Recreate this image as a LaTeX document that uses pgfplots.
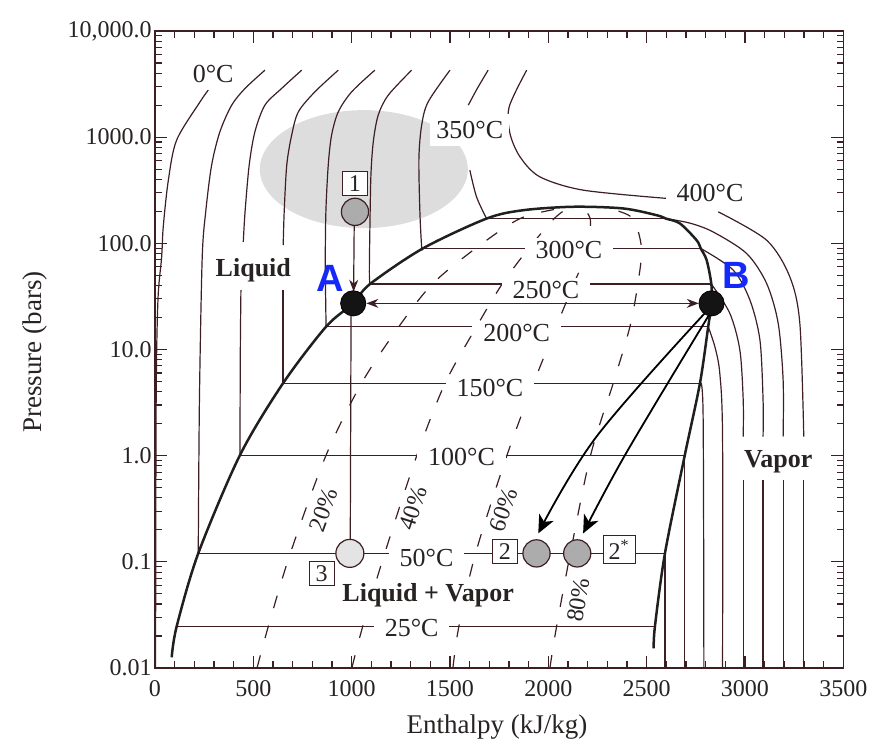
\documentclass[border=0pt]{standalone}
\usepackage{fontspec}
\setmainfont{Liberation Serif}
\newfontfamily\absans{Liberation Sans}
\usepackage{pgfplots}
\pgfplotsset{compat=1.18}
\usetikzlibrary{arrows.meta}
\definecolor{ink}{RGB}{60,30,35}
\definecolor{txt}{RGB}{40,35,35}
\definecolor{ellgray}{RGB}{221,221,221}
\definecolor{pgray}{RGB}{172,172,172}
\definecolor{lgray}{RGB}{228,228,228}
\definecolor{ABblue}{RGB}{20,40,250}
\newcommand{\isofont}{\fontsize{13}{15}\selectfont}
\newcommand{\axfont}{\fontsize{13.5}{16}\selectfont}
\pgfplotsset{
  iso/.style={ink, line width=0.6pt},
  isoS/.style={ink, line width=0.6pt, smooth, tension=0.5},
  qual/.style={ink, line width=0.6pt, smooth, tension=0.5, dash pattern=on 6.5pt off 9pt},
}
\tikzset{
  lab/.style={font=\isofont, text=txt, fill=white, inner xsep=5.5pt, inner ysep=1.5pt},
  qlab/.style={font=\fontsize{12}{14}\selectfont, text=txt},
  bx/.style={draw=ink, fill=white, line width=0.5pt, inner sep=1pt, minimum width=12.5pt, minimum height=12pt, font=\fontsize{12}{14}\selectfont, text=txt},
}
\begin{document}
\begin{tikzpicture}
\begin{axis}[
  scale only axis, width=344.2pt, height=318.5pt,
  xmin=0, xmax=3500, ymode=log, ymin=0.01, ymax=10000,
  xtick={0,500,1000,1500,2000,2500,3000,3500},
  xticklabels={0,500,1000,1500,2000,2500,3000,3500},
  minor x tick num=4,
  ytick={0.01,0.1,1,10,100,1000,10000},
  yticklabels={0.01,0.1,1.0,10.0,100.0,1000.0,{10,000.0}},
  minor ytick={0.02,0.03,0.04,0.05,0.06,0.07,0.08,0.09,0.2,0.3,0.4,0.5,0.6,0.7,0.8,0.9,2,3,4,5,6,7,8,9,20,30,40,50,60,70,80,90,200,300,400,500,600,700,800,900,2000,3000,4000,5000,6000,7000,8000,9000},
  tick align=inside, major tick length=6pt, minor tick length=3.3pt,
  axis line style={ink, line width=0.7pt},
  tick style={ink, line width=0.55pt},
  ticklabel style={font=\fontsize{12}{14}\selectfont, text=txt},
  xticklabel style={yshift=-3pt},
  yticklabel style={inner xsep=1.5pt},
  clip=false, no markers,
]
\coordinate (SW) at (rel axis cs:0,0);
\coordinate (NE) at (rel axis cs:1,1);
% highlight ellipse
\fill[ellgray] (axis cs:1062,500) ellipse [x radius=52pt, y radius=29.5pt];

% ---- isotherms, compressed-liquid part
\addplot[isoS] coordinates {(271,2773) (229,2150) (110,937) (68,394) (42,143) (34,74.6) (15,29) (6,3.3) (3,0.01)};
\addplot[isoS] coordinates {(559,4276) (458,2877) (390,2001) (330,1122) (288,545) (258,198) (240,72.1) (226,3.34) (220,0.120)};
\addplot[isoS] coordinates {(746,4276) (644,2877) (559,2001) (508,1122) (479,545) (458,198) (449,103)};
\addplot[isoS] coordinates {(437,36.3) (434,10) (432,1.01)};
\addplot[isoS] coordinates {(932,4276) (813,2672) (729,1731) (695,1044) (670,545) (657,198) (652,96)};
\addplot[isoS] coordinates {(651,36.3) (651,4.80)};
\addplot[isoS] coordinates {(1118,4276) (1000,2672) (932,1731) (898,1044) (881,545) (869,198) (866,62.3) (870,16.4)};
\addplot[isoS] coordinates {(1305,4276) (1186,2485) (1135,1611) (1110,903) (1098,439) (1093,148) (1090,53.9) (1093,41.3)};
\addplot[isoS] coordinates {(1500,4276) (1389,2150) (1356,1298) (1342,630) (1347,198) (1356,92.7) (1362,89.5)};
\addplot[isoS] coordinates {(1694,4276) (1640,2900) (1593,2000)};
\addplot[isoS] coordinates {(1601,489) (1635,274) (1686,171)};
\addplot[isoS] coordinates {(1890,4276) (1801,1929) (1805,1084) (1856,653) (1957,423) (2177,317) (2601,265)};
\addplot[isoS] coordinates {(2864,198) (3110,107) (3228,48.4) (3279,17.6) (3299,1.51)};
\addplot[iso] coordinates {(3299,0.589) (3299,0.01)};

% ---- isotherms inside the dome (horizontal)
\addplot[iso] coordinates {(110,0.0245) (2542,0.0245)};
\addplot[iso] coordinates {(220,0.12) (2593,0.12) (2593,0.01)};
\addplot[iso] coordinates {(432,1.01) (2694,1.01) (2694,0.01)};
\addplot[iso] coordinates {(651,4.80) (2771,4.80)};
\addplot[iso] coordinates {(870,16.4) (2813,16.4)};
\addplot[iso] coordinates {(1093,41.3) (2829,41.3)};
\addplot[iso] coordinates {(1362,89.5) (2775,89.5)};
\addplot[iso] coordinates {(1686,171) (2598,171)};

% ---- isotherms, vapour part
\addplot[isoS] coordinates {(2771,4.80) (2787,2.50) (2791,0.01)};
\addplot[isoS] coordinates {(2813,16.4) (2847,10.6) (2872,5.96) (2886,1.51) (2886,0.01)};
\addplot[isoS] coordinates {(2829,41.3) (2923,21.9) (2974,9.87) (2991,3.34) (2991,1.51)};
\addplot[iso] coordinates {(2991,0.589) (2991,0.01)};
\addplot[isoS] coordinates {(2775,89.5) (2940,56) (3025,29.2) (3076,12.3) (3092,3.34) (3092,1.51)};
\addplot[iso] coordinates {(3092,0.589) (3092,0.01)};
\addplot[isoS] coordinates {(2598,171) (2720,155) (2838,128) (3008,80.3) (3110,41.9) (3169,17.6) (3194,5.15) (3194,1.51)};
\addplot[iso] coordinates {(3194,0.589) (3194,0.01)};

% ---- quality lines
\addplot[qual] coordinates {(519,0.01) (576,0.0245) (688,0.12) (870,1.01) (1050,4.80) (1240,16.4) (1410,41.3) (1630,89.5) (1856,171) (2060,213)};
\addplot[qual] coordinates {(1001,0.01) (1056,0.0245) (1168,0.12) (1332,1.01) (1475,4.80) (1635,16.4) (1765,41.3) (1900,89.5) (2030,171) (2100,215)};
\addplot[qual] coordinates {(1515,0.01) (1545,0.0245) (1630,0.12) (1790,1.01) (1925,4.80) (2040,16.4) (2129,41.3) (2203,89.5) (2213,171) (2170,215)};
\addplot[qual] coordinates {(2008,0.01) (2042,0.0245) (2112,0.12) (2215,1.01) (2330,4.80) (2415,16.4) (2455,41.3) (2474,89.5) (2430,171) (2330,207)};

% ---- labels on isotherms
\node[font=\isofont, text=txt] at (axis cs:296,3900) {0°C};
\node[lab, inner xsep=3pt, inner ysep=3.5pt] at (axis cs:1601,1164) {350°C};
\node[lab] at (axis cs:2822,295) {400°C};
\node[lab] at (axis cs:2105,86.3) {300°C};
\node[lab] at (axis cs:1988,36.3) {250°C};
\node[lab] at (axis cs:1839,14.2) {200°C};
\node[lab] at (axis cs:1703,4.30) {150°C};
\node[lab] at (axis cs:1559,0.977) {100°C};
\node[lab] at (axis cs:1381,0.108) {50°C};
\node[lab] at (axis cs:1305,0.0237) {25°C};
\node[qlab, rotate=70] at (axis cs:856,0.308) {20\%};
\node[qlab, rotate=72] at (axis cs:1313,0.319) {40\%};
\node[qlab, rotate=70] at (axis cs:1771,0.308) {60\%};
\node[qlab, rotate=80] at (axis cs:2152,0.0437) {80\%};
\node[font=\bfseries\isofont, text=txt] at (axis cs:500,56) {Liquid};
\node[font=\bfseries\isofont, text=txt, fill=white, inner sep=1pt] at (axis cs:1389,0.0486) {Liquid + Vapor};
\node[font=\bfseries\isofont, text=txt] at (axis cs:3169,0.877) {Vapor};

% ---- saturation dome
\addplot[black!88, line width=1.25pt, smooth, tension=0.5] coordinates {
(85,0.0126) (110,0.0245) (220,0.12) (432,1.01) (651,4.80) (870,16.4) (1008,27.2) (1093,41.3) (1362,89.5) (1686,171) (1872,205) (2127,221) (2381,213) (2551,184) (2598,171) (2669,154) (2754,107) (2775,89.5) (2805,69.5) (2829,41.3) (2830,27.2) (2813,16.4) (2771,4.80) (2694,1.01) (2593,0.12) (2542,0.0245) (2536,0.0153)};

% ---- process arrows
\addplot[ink, line width=0.6pt, -{Stealth[length=6pt,width=4.5pt]}] coordinates {(1013,150) (1010,35)};
\addplot[ink, line width=0.6pt, {Stealth[length=6pt,width=4.5pt]}-{Stealth[length=6pt,width=4.5pt]}] coordinates {(1075,27.2) (2765,27.2)};
\addplot[ink, line width=0.6pt] coordinates {(997,20.6) (993,0.161)};
\addplot[black, line width=0.9pt, smooth, tension=0.6, -{Stealth[length=9pt,width=8pt,inset=2.5pt]}] coordinates {(2801,22.5) (2245,1.51) (1949,0.185)};
\addplot[black, line width=0.9pt, smooth, tension=0.6, -{Stealth[length=9pt,width=8pt,inset=2.5pt]}] coordinates {(2817,21.1) (2395,1.05) (2177,0.185)};

% ---- state points
\addplot[only marks, mark=*, mark size=6.3pt, mark options={draw=black, fill=black!92}] coordinates {(1008,27.2) (2830,27.2)};
\addplot[only marks, mark=*, mark size=6.8pt, mark options={draw=ink, fill=pgray, line width=0.6pt}] coordinates {(1017,198) (1940,0.12) (2147,0.12)};
\addplot[only marks, mark=*, mark size=7pt, mark options={draw=ink, fill=lgray, line width=0.6pt}] coordinates {(991,0.12)};

\node[bx] at (axis cs:1017,366) {1};
\node[bx] at (axis cs:847,0.078) {3};
\node[bx] at (axis cs:1779,0.125) {2};
\node[bx, minimum width=16pt, minimum height=14pt] at (axis cs:2360,0.13) {2\textsuperscript{*}};

\node[font=\absans\bfseries\fontsize{19}{22}\selectfont, text=ABblue] at (axis cs:890,46.7) {A};
\node[font=\absans\bfseries\fontsize{19}{22}\selectfont, text=ABblue] at (axis cs:2957,50.2) {B};

% ---- axis titles
\node[font=\axfont, text=txt] at (rel axis cs:0.497,-0.0926) {Enthalpy (kJ/kg)};
\node[font=\axfont, text=txt, rotate=90] at (rel axis cs:-0.174,0.496) {Pressure (bars)};
\end{axis}
\pgfresetboundingbox
\path ([shift={(-77.5pt,-41.5pt)}]SW) rectangle ([shift={(15.35pt,15.5pt)}]NE);
\end{tikzpicture}
\end{document}
